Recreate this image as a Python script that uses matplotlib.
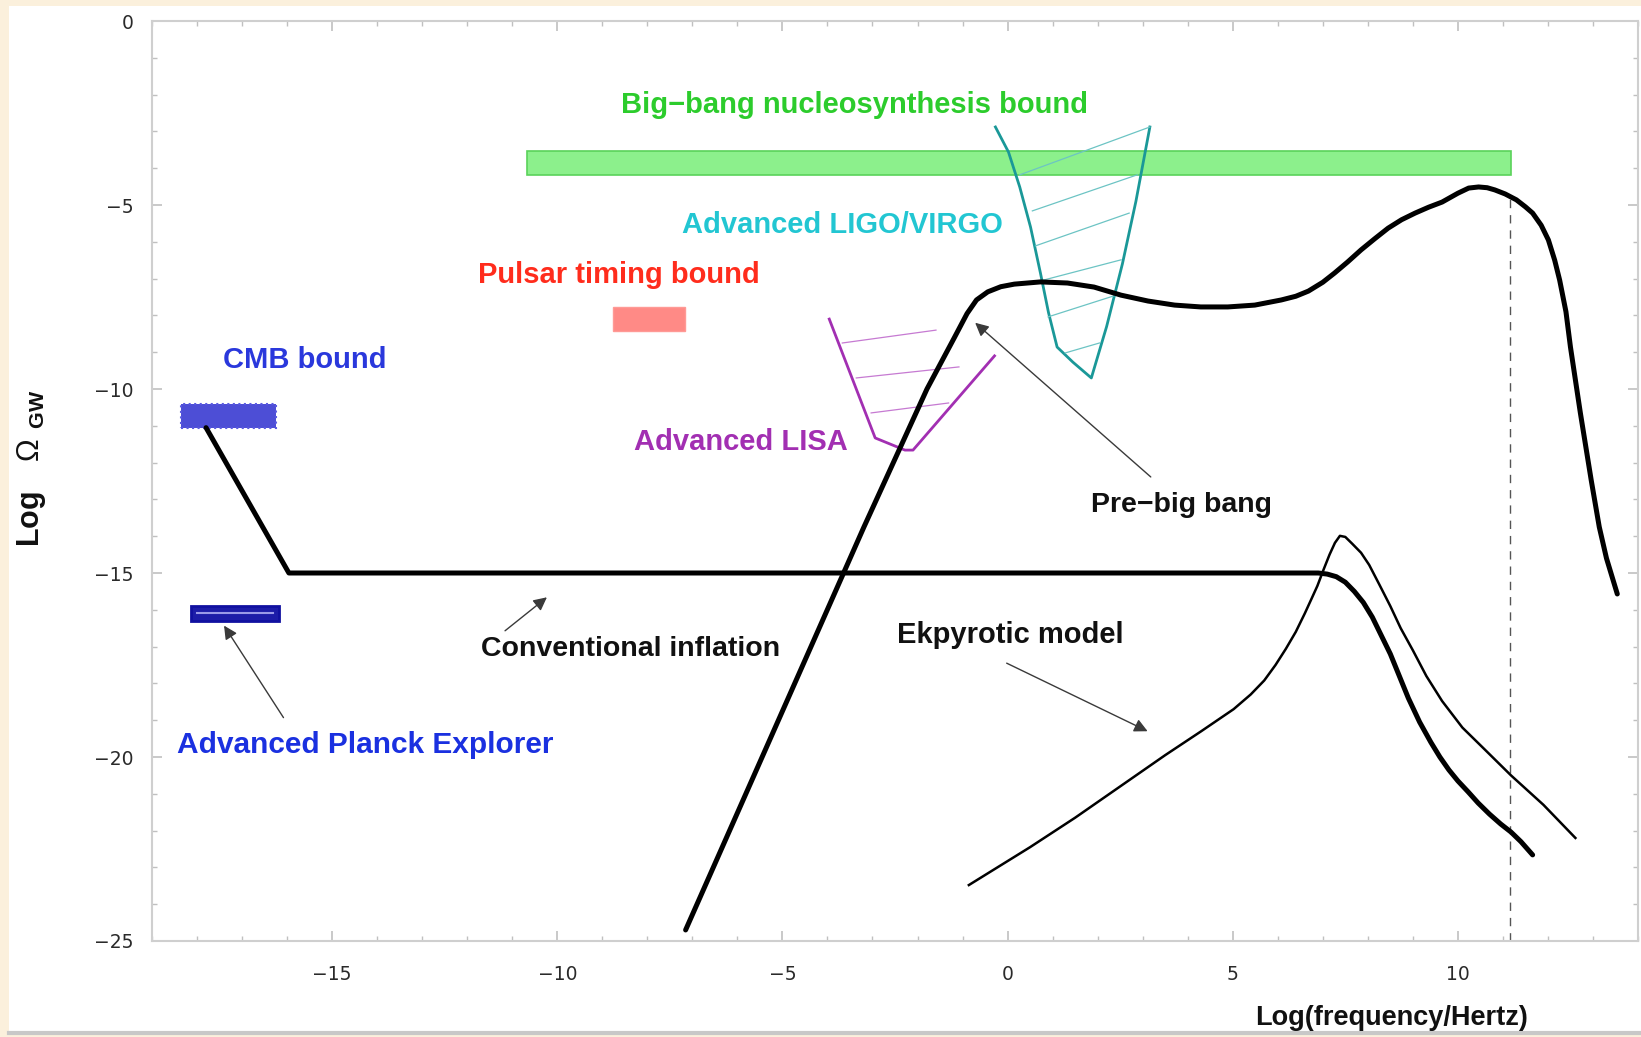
import matplotlib
matplotlib.use("Agg")
import matplotlib.pyplot as plt
from matplotlib.patches import Rectangle
from matplotlib.lines import Line2D
from matplotlib.ticker import MultipleLocator

plt.rcParams['mathtext.fontset'] = 'custom'
plt.rcParams['mathtext.rm'] = 'Liberation Sans'
plt.rcParams['mathtext.bf'] = 'Liberation Sans:bold'

# ---- data (log10 f / Hz, log10 Omega_GW) ----
infl_x = [-17.8, -15.96, 6.9, 7.1, 7.3, 7.5, 7.7, 7.9, 8.1, 8.3, 8.5, 8.7, 8.9, 9.15, 9.4, 9.6,
          9.8, 10.0, 10.23, 10.45, 10.7, 10.95, 11.18, 11.4, 11.66]
infl_y = [-11.05, -15.0, -15.0, -15.03, -15.1, -15.25, -15.5, -15.8, -16.2, -16.7, -17.2, -17.8,
          -18.4, -19.05, -19.6, -20.0, -20.35, -20.65, -20.95, -21.25, -21.55, -21.82, -22.04, -22.3, -22.66]

prebb_x = [-7.15, -3.19, -1.79, -1.18, -0.9, -0.69, -0.44, -0.15, 0.15, 0.73, 1.33, 1.92, 2.52,
           3.12, 3.71, 4.29, 4.89, 5.49, 6.08, 6.4, 6.68, 7.0, 7.26, 7.55, 7.85, 8.15, 8.45, 8.75,
           9.05, 9.35, 9.65, 10.0, 10.24, 10.46, 10.65, 10.82, 11.05, 11.3, 11.5, 11.66, 11.85,
           12.01, 12.15, 12.26, 12.4, 12.5, 12.72, 12.96, 13.14, 13.3, 13.54]
prebb_y = [-24.7, -13.75, -10.0, -8.6, -7.95, -7.58, -7.36, -7.22, -7.15, -7.09, -7.12, -7.23, -7.45,
           -7.61, -7.72, -7.77, -7.77, -7.72, -7.58, -7.48, -7.34, -7.1, -6.85, -6.55, -6.22, -5.92,
           -5.63, -5.4, -5.22, -5.06, -4.92, -4.68, -4.54, -4.51, -4.53, -4.59, -4.7, -4.86, -5.05,
           -5.22, -5.55, -5.95, -6.5, -7.04, -7.9, -8.86, -10.65, -12.47, -13.75, -14.6, -15.57]

ekp_x = [-0.86, 0.5, 1.5, 2.5, 3.5, 4.3, 5.02, 5.4, 5.7, 5.95, 6.18, 6.4, 6.6, 6.75, 6.88, 7.02,
         7.15, 7.27, 7.38, 7.5, 7.65, 7.85, 8.03, 8.25, 8.5, 8.73, 9.0, 9.3, 9.65, 10.1, 10.6,
         11.18, 11.9, 12.61]
ekp_y = [-23.48, -22.45, -21.65, -20.8, -19.95, -19.3, -18.7, -18.3, -17.92, -17.5, -17.06, -16.6,
         -16.1, -15.7, -15.35, -14.9, -14.5, -14.18, -13.99, -14.02, -14.2, -14.45, -14.78, -15.3,
         -15.9, -16.5, -17.1, -17.8, -18.48, -19.2, -19.8, -20.5, -21.3, -22.2]

ligo_x = [-0.27, 0.02, 0.27, 0.51, 0.73, 0.91, 1.1, 1.45, 1.86, 2.2, 2.55, 2.85, 3.16]
ligo_y = [-2.88, -3.56, -4.51, -5.6, -6.85, -7.93, -8.86, -9.27, -9.7, -8.3, -6.6, -4.9, -2.88]
ligo_hatch = [((0.27, -4.18), (3.16, -2.88)), ((0.55, -5.16), (2.88, -4.18)),
              ((0.62, -6.11), (2.70, -5.22)), ((0.8, -7.04), (2.52, -6.49)),
              ((0.9, -8.04), (2.41, -7.45)), ((1.28, -9.02), (2.04, -8.75))]

lisa_x = [-3.96, -2.94, -2.28, -2.10, -0.29]
lisa_y = [-8.1, -11.33, -11.66, -11.66, -9.1]
lisa_hatch = [((-3.67, -8.75), (-1.59, -8.40)), ((-3.36, -9.70), (-1.08, -9.40)),
              ((-3.03, -10.65), (-1.31, -10.38))]

# bounds: (x0, x1, y0, y1)
bbn_box = (-10.67, 11.18, -4.19, -3.53)
pulsar_box = (-8.77, -7.17, -8.43, -7.77)
cmb_box = (-18.35, -16.24, -11.05, -10.42)
planck_box = (-18.14, -16.17, -16.30, -15.89)

cutoff_x = 11.15
cutoff_y = (-25, -4.85)

fig = plt.figure(figsize=(16.41, 10.37), dpi=100)
fig.patch.set_facecolor('#fbf0dc')
fig.add_artist(Rectangle((9 / 1641, 5 / 1037), 1, 1 - 11 / 1037, transform=fig.transFigure,
                         facecolor='white', edgecolor='none', zorder=0))
fig.add_artist(Line2D([9 / 1641, 1], [4 / 1037, 4 / 1037], transform=fig.transFigure,
                      color='#c8c8c8', lw=3))

ax = fig.add_axes([152 / 1641, 1 - 941 / 1037, 1486 / 1641, 920 / 1037])
ax.set_facecolor('white')
ax.set_xlim(-19, 14)
ax.set_ylim(-25, 0)
for s in ax.spines.values():
    s.set_color('#cfcfcf')
    s.set_linewidth(1.5)
ax.xaxis.set_major_locator(MultipleLocator(5))
ax.xaxis.set_minor_locator(MultipleLocator(1))
ax.yaxis.set_major_locator(MultipleLocator(5))
ax.yaxis.set_minor_locator(MultipleLocator(1))
ax.tick_params(which='both', direction='in', top=True, right=True, color='#c0c0c0')
ax.tick_params(which='major', length=7, width=1.2, labelsize=13.5, labelcolor='#2a2a2a')
ax.tick_params(which='minor', length=3.5, width=1)
ax.tick_params(axis='x', pad=17)
ax.tick_params(axis='y', pad=13)

# boxes
def box(b, **kw):
    ax.add_patch(Rectangle((b[0], b[2]), b[1] - b[0], b[3] - b[2], **kw))

box(bbn_box, facecolor='#8cf08c', edgecolor='#5ad25a', lw=1.2, zorder=2)
box(pulsar_box, facecolor='#ff8a86', edgecolor='#ff9a96', lw=1, zorder=2)
box(cmb_box, facecolor='#4d4ed6', edgecolor='#5a5ae0', lw=1.5, ls=':', zorder=2)
box(planck_box, facecolor='#1c1ca8', edgecolor='#1010a0', lw=2, zorder=2)
pmid = (planck_box[2] + planck_box[3]) / 2
ax.plot([planck_box[0] + 0.15, planck_box[1] - 0.15], [pmid, pmid], color='#9a9ae8', lw=1.5, zorder=3)

# detector sensitivities
ax.plot(ligo_x, ligo_y, color='#1a9898', lw=2, zorder=3)
for (a, b) in ligo_hatch:
    ax.plot([a[0], b[0]], [a[1], b[1]], color='#6cc4c4', lw=0.9, zorder=3)
ax.plot(lisa_x, lisa_y, color='#a22fb2', lw=2, zorder=3)
for (a, b) in lisa_hatch:
    ax.plot([a[0], b[0]], [a[1], b[1]], color='#c67ad2', lw=0.9, zorder=3)

# model spectra
ax.plot(infl_x, infl_y, color='black', lw=3.6, solid_joinstyle='round', solid_capstyle='round', zorder=4)
ax.plot(prebb_x, prebb_y, color='black', lw=3.6, solid_joinstyle='round', solid_capstyle='round', zorder=4)
ax.plot(ekp_x, ekp_y, color='black', lw=1.8, solid_joinstyle='round', zorder=4)
ax.plot([cutoff_x, cutoff_x], cutoff_y, color='#555555', lw=1, dashes=(6, 5), zorder=1)

# labels
lab = dict(family='Liberation Sans', weight='bold', ha='center', va='center', zorder=5)
ax.text(-3.4, -2.28, 'Big\u2212bang nucleosynthesis bound', color='#2ccc2c', fontsize=21, **lab)
ax.text(-3.67, -5.55, 'Advanced LIGO/VIRGO', color='#22c6d2', fontsize=21, **lab)
ax.text(-8.63, -6.89, 'Pulsar timing bound', color='#ff2c1c', fontsize=21, **lab)
ax.text(-15.6, -9.2, 'CMB bound', color='#2a38dc', fontsize=21, **lab)
ax.text(-5.92, -11.45, 'Advanced LISA', color='#a22fb2', fontsize=21, **lab)
ax.text(-14.27, -19.67, 'Advanced Planck Explorer', color='#1a30e0', fontsize=21.5, **lab)
ax.text(3.87, -13.15, 'Pre\u2212big bang', color='#111111', fontsize=20.5, **lab)
ax.text(-8.38, -17.06, 'Conventional inflation', color='#111111', fontsize=20.5, **lab)
ax.text(0.05, -16.69, 'Ekpyrotic model', color='#111111', fontsize=21, **lab)

arr = dict(arrowstyle='-|>', color='#3a3a3a', lw=1, mutation_scale=20, shrinkA=0, shrinkB=0)
ax.annotate('', xy=(-17.4, -16.43), xytext=(-16.08, -18.93), arrowprops=arr, zorder=5)
ax.annotate('', xy=(-0.72, -8.2), xytext=(3.18, -12.39), arrowprops=arr, zorder=5)
ax.annotate('', xy=(-10.23, -15.66), xytext=(-11.16, -16.57), arrowprops=arr, zorder=5)
ax.annotate('', xy=(3.11, -19.3), xytext=(-0.02, -17.45), arrowprops=arr, zorder=5)

ax.set_ylabel(r'$\mathbf{Log}\ \ \ \Omega\ _{\mathbf{GW}}$', fontsize=22, color='#111111')
ax.yaxis.set_label_coords(-0.0697, 0.514)
fig.text(1392 / 1641, 1 - 1018 / 1037, 'Log(frequency/Hertz)', family='Liberation Sans',
         weight='bold', fontsize=19.5, color='#111111', ha='center', va='center')

fig.savefig('out.png', dpi=100, facecolor=fig.get_facecolor())
